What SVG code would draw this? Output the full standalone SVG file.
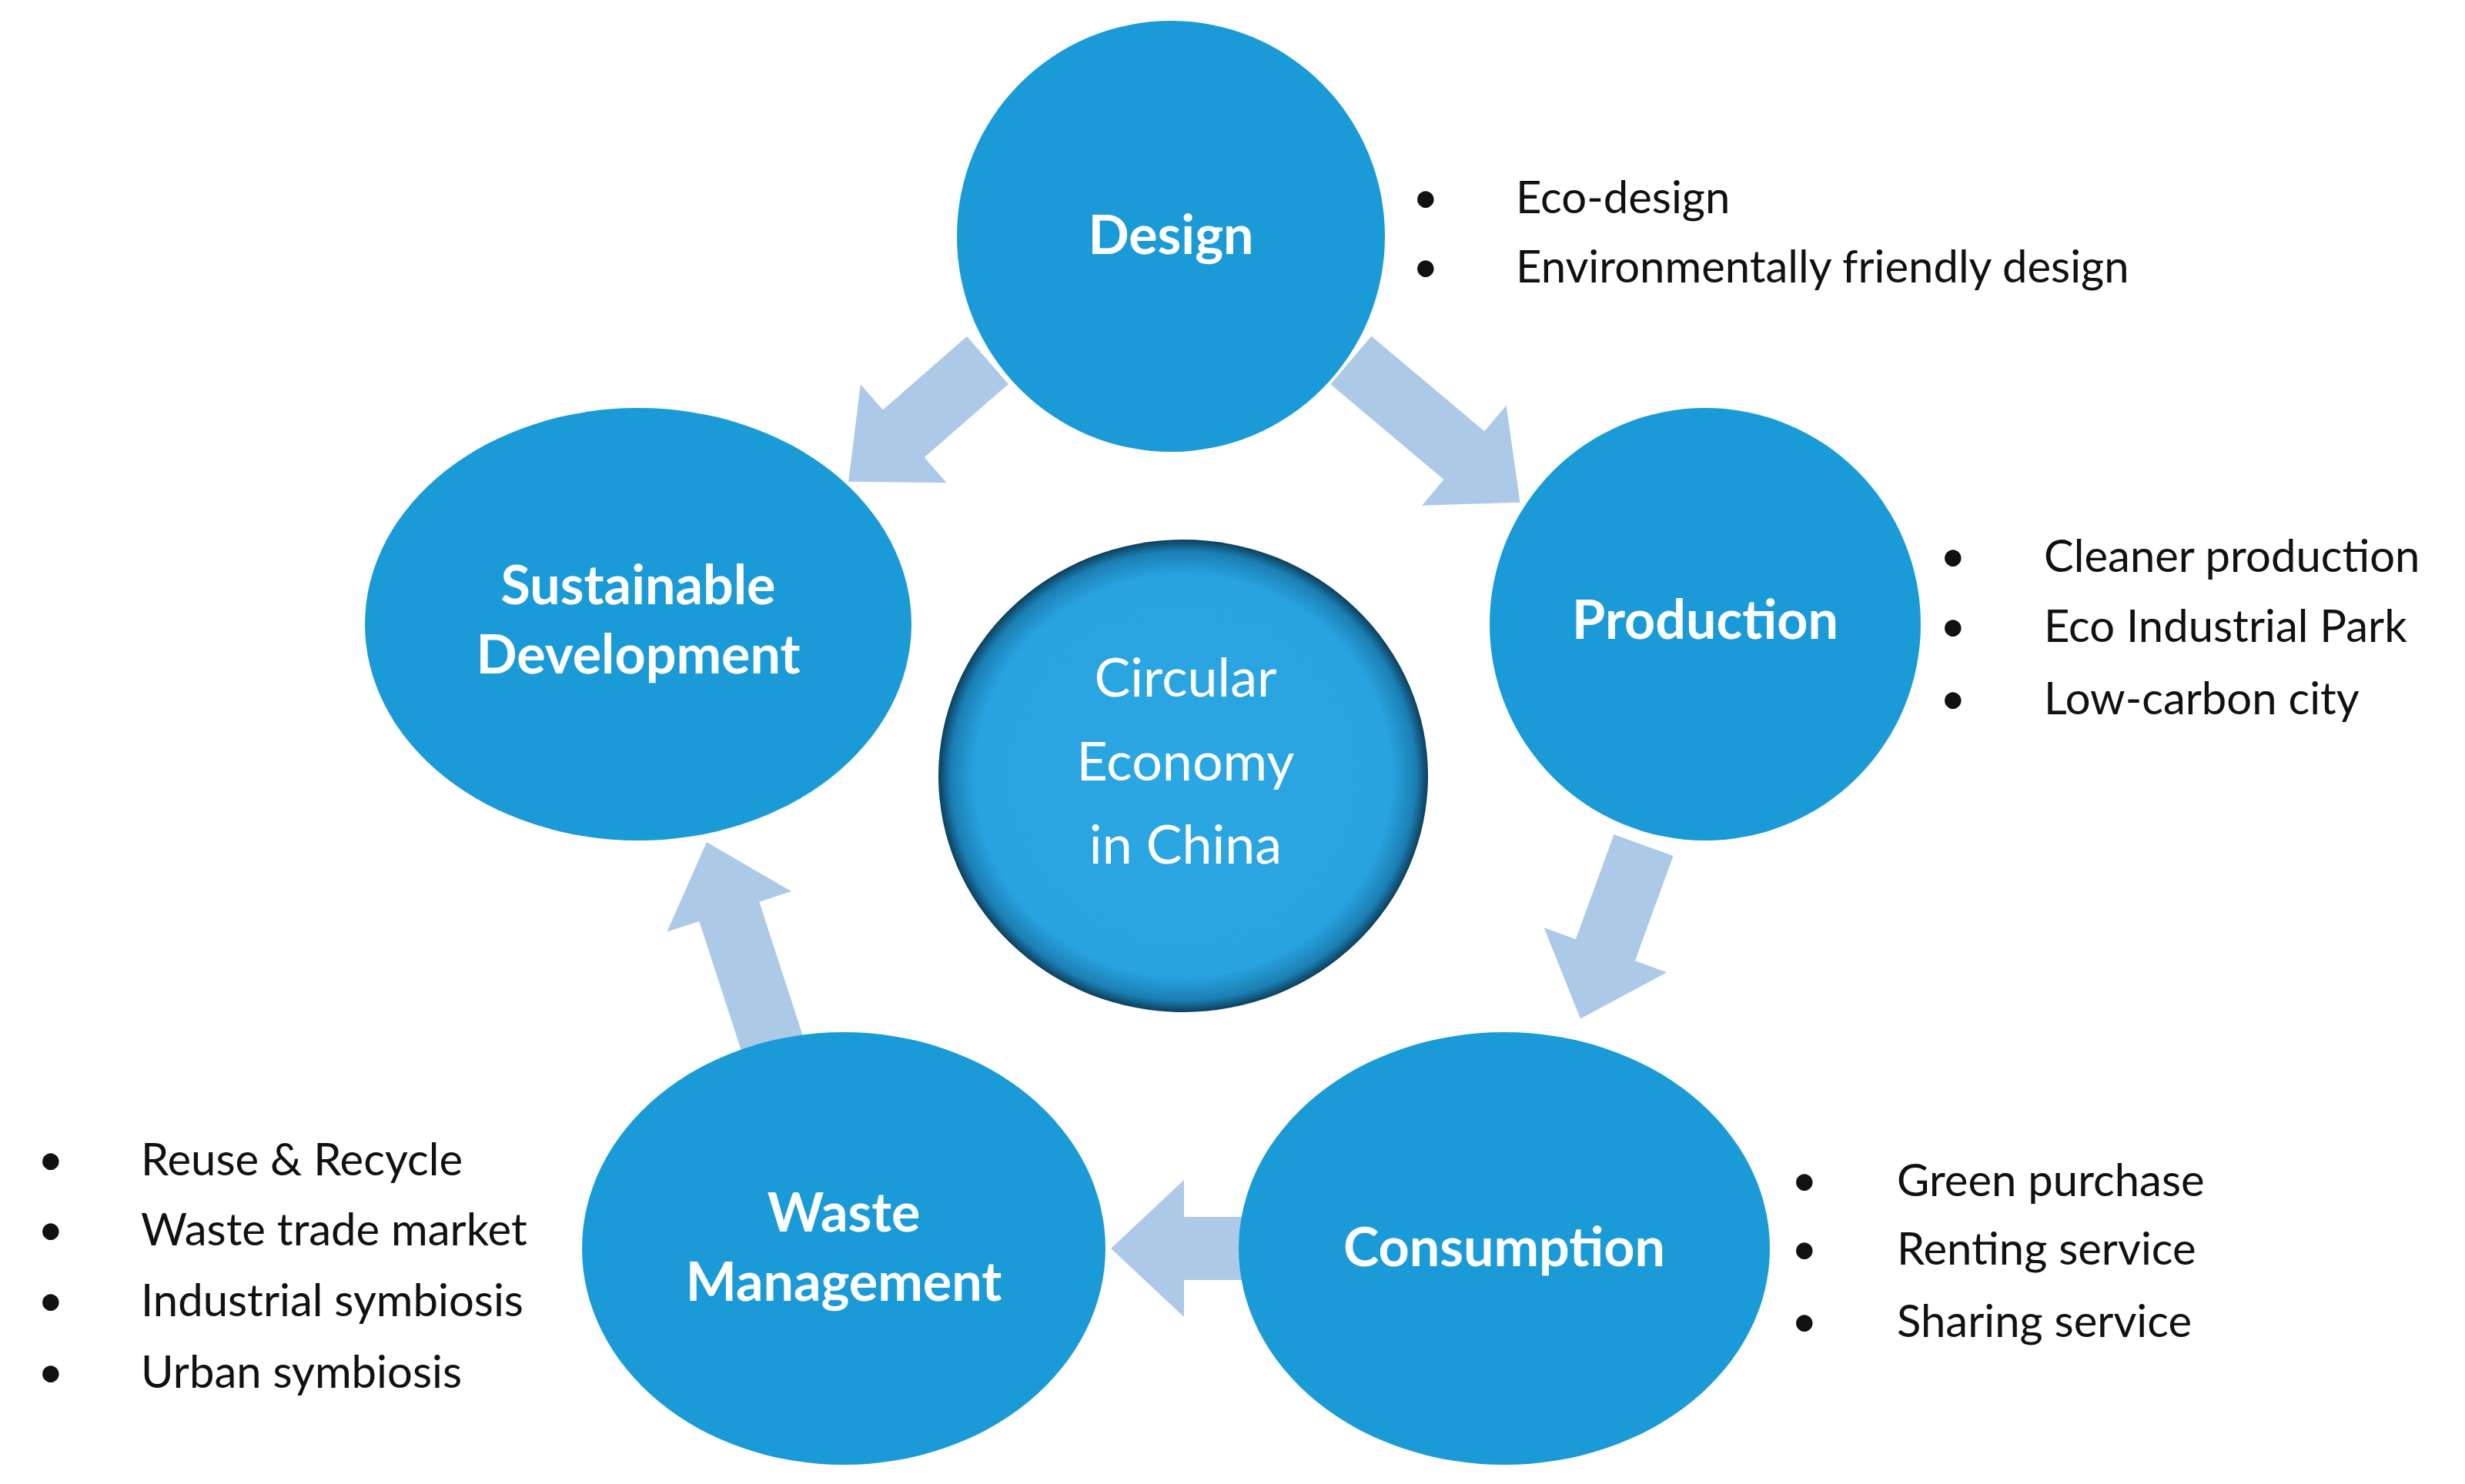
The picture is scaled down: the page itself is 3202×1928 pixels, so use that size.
<svg xmlns="http://www.w3.org/2000/svg" width="3202" height="1928" viewBox="0 0 3202 1928">
<style>
.node{fill:#1a9bd7}
.lbl{font-family:Lato,"Liberation Sans",sans-serif;font-weight:bold;font-size:70px;fill:#fff;text-anchor:middle}
.ctr{font-family:Lato,"Liberation Sans",sans-serif;font-size:70px;fill:#fff;text-anchor:middle}
.bt{font-family:Lato,"Liberation Sans",sans-serif;font-size:58px;fill:#111}
.arr{fill:#adc9e8}
</style>
<defs>
<radialGradient id="cg" cx="0.5" cy="0.5" r="0.5">
<stop offset="0" stop-color="#2ba7e3"/>
<stop offset="0.85" stop-color="#28a3df"/>
<stop offset="0.95" stop-color="#1b7fb4"/>
<stop offset="1" stop-color="#0c3f5c"/>
</radialGradient>
</defs>
<rect width="3202" height="1928" fill="#fff"/>
<g id="connectors">
<path class="arr" transform="translate(1755,468) rotate(40.1)" d="M0,-41 L192,-41 L192,-85 L287,0 L192,85 L192,41 L0,41 Z"/>
<path class="arr" transform="translate(1283,468) rotate(138.9)" d="M0,-41 L145,-41 L145,-85 L240,0 L145,85 L145,41 L0,41 Z"/>
<path class="arr" transform="translate(2135,1098) rotate(110)" d="M0,-41 L145,-41 L145,-85 L240,0 L145,85 L145,41 L0,41 Z"/>
<path class="arr" transform="translate(1622,1622) rotate(180)" d="M0,-41 L84,-41 L84,-89 L179,0 L84,89 L84,41 L0,41 Z"/>
<path class="arr" transform="translate(1006,1365) rotate(-108)" d="M0,-41 L190,-41 L190,-85 L285,0 L190,85 L190,41 L0,41 Z"/>
</g>
<g id="center">
<ellipse cx="1537" cy="1008" rx="318" ry="307" fill="url(#cg)"/>
<text class="ctr" x="1540" y="905">Circular</text>
<text class="ctr" x="1540" y="1014">Economy</text>
<text class="ctr" x="1540" y="1122">in China</text>
</g>
<g id="design">
<ellipse class="node" cx="1521" cy="307" rx="278" ry="280"/>
<text class="lbl" x="1521" y="330">Design</text>
</g>
<g id="production">
<ellipse class="node" cx="2215" cy="811" rx="280" ry="281"/>
<text class="lbl" x="2215" y="830">Production</text>
</g>
<g id="consumption">
<ellipse class="node" cx="1954" cy="1622" rx="345" ry="281"/>
<text class="lbl" x="1954" y="1645">Consumption</text>
</g>
<g id="waste">
<ellipse class="node" cx="1096" cy="1622" rx="340" ry="281"/>
<text class="lbl" x="1096" y="1600">Waste</text>
<text class="lbl" x="1096" y="1690">Management</text>
</g>
<g id="sustainable">
<ellipse class="node" cx="829" cy="811" rx="355" ry="281"/>
<text class="lbl" x="829" y="785">Sustainable</text>
<text class="lbl" x="829" y="875">Development</text>
</g>
<g id="bullets">
<text class="bt" x="1835" y="277">•</text><text class="bt" x="1969" y="277">Eco-design</text>
<text class="bt" x="1835" y="367">•</text><text class="bt" x="1969" y="367">Environmentally friendly design</text>
<text class="bt" x="2520" y="743">•</text><text class="bt" x="2655" y="743">Cleaner production</text>
<text class="bt" x="2520" y="834">•</text><text class="bt" x="2655" y="834">Eco Industrial Park</text>
<text class="bt" x="2520" y="928">•</text><text class="bt" x="2655" y="928">Low-carbon city</text>
<text class="bt" x="2327" y="1554">•</text><text class="bt" x="2464" y="1554">Green purchase</text>
<text class="bt" x="2327" y="1643">•</text><text class="bt" x="2464" y="1643">Renting service</text>
<text class="bt" x="2327" y="1737">•</text><text class="bt" x="2464" y="1737">Sharing service</text>
<text class="bt" x="49" y="1527">•</text><text class="bt" x="183" y="1527">Reuse &amp; Recycle</text>
<text class="bt" x="49" y="1618">•</text><text class="bt" x="183" y="1618">Waste trade market</text>
<text class="bt" x="49" y="1710">•</text><text class="bt" x="183" y="1710">Industrial symbiosis</text>
<text class="bt" x="49" y="1803">•</text><text class="bt" x="183" y="1803">Urban symbiosis</text>
</g>
</svg>
